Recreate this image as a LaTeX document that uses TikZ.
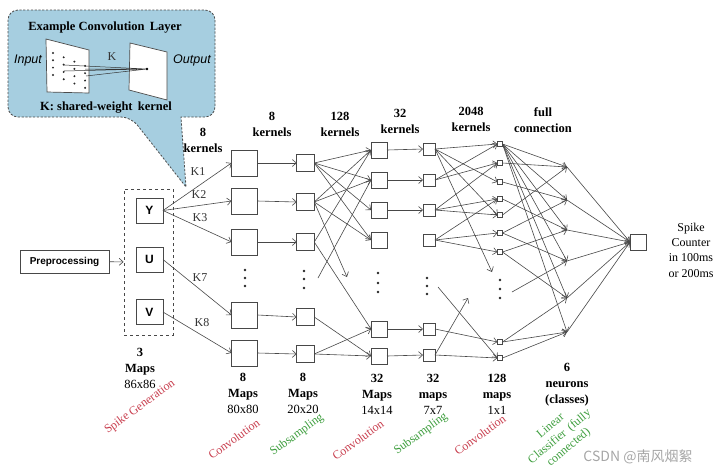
\documentclass[tikz,border=0pt]{standalone}
\usepackage{fontspec}
\setmainfont{Liberation Serif}
\setsansfont{Liberation Sans}
\newfontfamily\cjkfont{Noto Sans CJK SC}
\usetikzlibrary{arrows.meta}
\definecolor{calloutblue}{RGB}{166,206,224}
\definecolor{lblred}{RGB}{200,62,78}
\definecolor{lblgreen}{RGB}{62,158,62}
\definecolor{edgegray}{RGB}{72,72,72}
\newcommand\bflab{\fontsize{12.5}{16}\selectfont\bfseries}
\newcommand\rmlab{\fontsize{12}{15.3}\selectfont}
\begin{document}
\begin{tikzpicture}[x=1pt,y=-1pt,
  conn/.style={draw=edgegray, line width=0.6pt, -{Straight Barb[length=4pt,width=7pt]}},
  box/.style={draw=edgegray, line width=0.8pt, fill=white, minimum width=#1, minimum height=#1, inner sep=0pt, outer sep=0pt},
  chan/.style={draw=edgegray, line width=0.8pt, fill=white, minimum width=27pt, minimum height=25pt, inner sep=0pt, outer sep=0pt, font=\sffamily\bfseries\fontsize{12}{14}\selectfont},
  toplab/.style={font=\bflab, align=center, inner sep=0pt},
  botlab/.style={font=\bflab, align=center, inner sep=0pt},
  redlab/.style={font=\rmlab, text=lblred, rotate=36, inner sep=0pt},
  greenlab/.style={font=\rmlab, text=lblgreen, rotate=36, inner sep=0pt},
  klab/.style={font=\rmlab, text=black!80, inner sep=0pt},
  dotmark/.style={fill=black!85}
]
\useasboundingbox (0,0) rectangle (721,475);

% ---------- callout ----------
\path[draw=black!70, dash pattern=on 2.2pt off 1.6pt, line width=0.8pt, fill=calloutblue]
  (100,10) [rounded corners=10pt] -- (8,10) -- (8,117) -- (131,117) [sharp corners] -- (186,187) -- (181,117) [rounded corners=10pt] -- (215,117) -- (215,10) -- cycle;
\node[font=\bflab, inner sep=0pt] (extitle) at (105,28) {Example Convolution\, Layer};
\node[font=\bflab, inner sep=0pt] (exkernel) at (106,108) {K: shared-weight\, kernel};
\node[font=\sffamily\itshape\fontsize{12.5}{14}\selectfont, inner sep=0pt] (exin) at (28,60) {Input};
\node[font=\sffamily\itshape\fontsize{12.5}{14}\selectfont, inner sep=0pt] (exout) at (192,60) {Output};
\draw[fill=white, draw=black!70, line width=0.7pt] (46,39) -- (89,50) -- (89,93) -- (47,92) -- cycle;
\draw[fill=white, draw=black!70, line width=0.7pt] (130,43) -- (167,52) -- (167,100) -- (129,90) -- cycle;
\foreach \i in {0,...,3}{\foreach \j in {0,...,3}{
  \fill[black!85] ({53+10.7*\i},{53+4.3*\i+7.3*\j}) circle (1.1pt);}}
\draw[black!80, line width=0.5pt] (64,65) -- (147,69) (64,71) -- (147,69) (85,69) -- (147,69) (86,76) -- (147,69);
\fill[black] (147,69) circle (1.3pt);
\node[klab] (exk) at (112,57) {K};

% ---------- nodes ----------
\node[draw=edgegray, line width=0.8pt, minimum width=89pt, minimum height=23pt, inner sep=0pt,
      font=\sffamily\bfseries\fontsize{10}{12}\selectfont] (pre) at (64.5,261.5) {Preprocessing};
\node[draw=edgegray, dashed, line width=0.8pt, minimum width=49pt, minimum height=146pt, inner sep=0pt] (maps) at (148.5,262) {};
\node[chan] (cy) at (149.5,210.5) {Y};
\node[chan] (cu) at (149.5,259.5) {U};
\node[chan] (cv) at (149.5,312) {V};

\foreach \n/\yy in {1/163,2/201,3/242,4/315,5/353} \node[box=26pt] (a\n) at (244.5,\yy) {};
\foreach \n/\yy in {1/163,2/202,3/242,4/317,5/354} \node[box=17.5pt] (b\n) at (305.5,\yy) {};
\foreach \n/\yy in {1/150,2/180,3/210,4/240,5/329,6/356} \node[box=16pt] (c\n) at (379,\yy) {};
\foreach \n/\yy in {1/149,2/180,3/210,4/240,5/329,6/355} \node[box=12pt] (d\n) at (429,\yy) {};
\foreach \n/\yy in {1/144,2/163,3/182,4/199,5/215,6/233,7/252,8/342,9/358} \node[box=5pt, line width=0.6pt] (e\n) at (500,\yy) {};
\foreach \n/\yy in {1/167,2/200,3/230,4/261,5/298,6/332} \coordinate (f\n) at (567,\yy);
\node[box=16pt] (out) at (638,242) {};

% vertical dots
\foreach \xx/\ya/\yb/\yc in {245/270/278/286, 304/271/279/288, 378/273/283/292, 427/278/286/294, 500/280/289/298}{
  \fill[dotmark] (\xx,\ya) circle (1.3pt) (\xx,\yb) circle (1.3pt) (\xx,\yc) circle (1.3pt);}

% free ends
\coordinate (bx1) at (347,277);
\coordinate (bs1) at (318,278);
\coordinate (dx1) at (492,272);
\coordinate (ds1) at (438,287);
\coordinate (dx2) at (468,298);
\coordinate (es1) at (512,292);

% ---------- connectors ----------
\draw[conn] (pre) -- (maps);
\draw[conn] (cy.east) -- (a1.west);
\draw[conn] (cy.east) -- (a2.west);
\draw[conn] (cy.east) -- (a3.west);
\draw[conn] (cu.east) -- (a4.west);
\draw[conn] (cv.east) -- (a5.west);
\node[klab] (k1) at (198,172) {K1};
\node[klab] (k2) at (199,195) {K2};
\node[klab] (k3) at (200,218) {K3};
\node[klab] (k7) at (200,278) {K7};
\node[klab] (k8) at (202,323) {K8};

\foreach \n in {1,...,5} \draw[conn] (a\n.east) -- (b\n.west);

\foreach \s/\t in {b1/c1,b1/c2,b1/c3,b1/c4,b2/c1,b2/c2,b2/c4,b3/c1,b3/c5,b4/c6,b5/c5,b5/c6}
  \draw[conn] (\s.east) -- (\t.west);
\draw[conn] (b2.east) -- (bx1);
\draw[conn] (bs1) -- (c2.west);

\foreach \n in {1,2,3,5,6} \draw[conn] (c\n.east) -- (d\n.west);

\foreach \s/\t in {d1/e1,d1/e3,d1/e5,d2/e1,d2/e2,d3/e2,d3/e4,d3/e5,d4/e4,d4/e6,d4/e7,d5/e8,d6/e9}
  \draw[conn] (\s.east) -- (\t.west);
\draw[conn] (d1.east) -- (dx1);
\draw[conn] (d6.east) -- (dx2);
\draw[conn] (ds1) -- (e9.west);

\foreach \t in {f1,f2,f3,f4,f5,f6} \draw[conn] (e1.east) -- (\t);
\foreach \s/\t in {e2/f1,e3/f2,e4/f3,e5/f1,e6/f2,e6/f4,e7/f3,e7/f5,e8/f5,e8/f6,e9/f6}
  \draw[conn] (\s.east) -- (\t);
\draw[conn] (es1) -- (f4);
\foreach \n in {1,...,6} \draw[conn] (f\n) -- (out.west);

% ---------- top labels ----------
\node[toplab] (t1) at (203,140) {8\\kernels};
\node[toplab] (t2) at (272,124.5) {8\\kernels};
\node[toplab] (t3) at (340,124.5) {128\\kernels};
\node[toplab] (t4) at (400,121.5) {32\\kernels};
\node[toplab] (t5) at (471,119.5) {2048\\kernels};
\node[toplab] (t6) at (543,120) {full\\connection};

% ---------- bottom labels ----------
\node[botlab] (m0) at (140,368) {3\\Maps\\\mdseries 86x86};
\node[botlab] (m1) at (243,393) {8\\Maps\\\mdseries 80x80};
\node[botlab] (m2) at (303,393) {8\\Maps\\\mdseries 20x20};
\node[botlab] (m3) at (377,394.5) {32\\Maps\\\mdseries 14x14};
\node[botlab] (m4) at (433,394.5) {32\\maps\\\mdseries 7x7};
\node[botlab] (m5) at (497,394.5) {128\\maps\\\mdseries 1x1};
\node[botlab] (m6) at (567,385) {6\\neurons\\(classes)};

\node[redlab] (r0) at (140,407) {Spike Generation};
\node[redlab] (r1) at (234,439) {Convolution};
\node[greenlab] (g1) at (297,435) {Subsampling};
\node[redlab] (r2) at (358,440) {Convolution};
\node[greenlab] (g2) at (421,434) {Subsampling};
\node[redlab] (r3) at (480,435) {Convolution};
\node[greenlab, align=center, rotate=4, font=\fontsize{12}{14}\selectfont] (g3) at (560,437) {Linear\\Classifier\, (fully\\connected)};

\node[font=\rmlab, align=center, inner sep=0pt] (sc) at (691,250) {Spike\\Counter\\in 100ms\\or 200ms};

\node[font=\cjkfont\fontsize{14}{16}\selectfont, text=black!35, inner sep=0pt] (wm) at (638,457) {CSDN @南风烟絮};
\end{tikzpicture}
\end{document}
